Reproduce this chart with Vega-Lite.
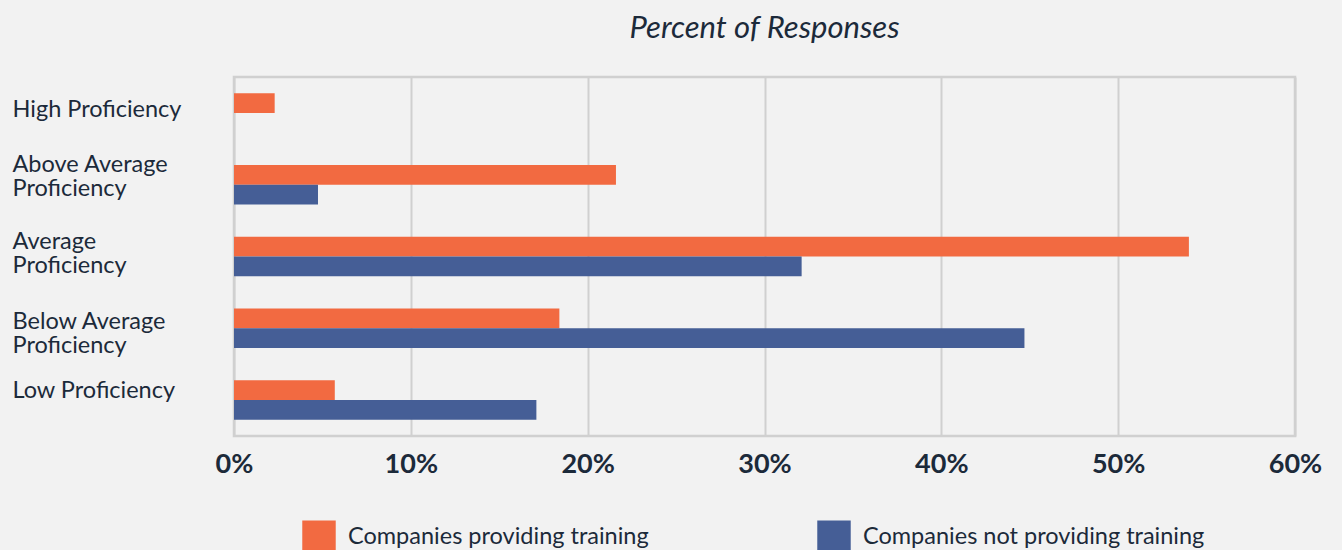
{
  "$schema": "https://vega.github.io/schema/vega-lite/v6.json",
  "autosize": {"type": "none"},
  "width": 1061,
  "height": 359,
  "padding": {"left": 234, "top": 77, "right": 47, "bottom": 114},
  "background": "#f2f2f2",
  "config": {
    "font": "Lato",
    "view": {"stroke": "#d0d0d0", "strokeWidth": 2.5, "fill": "#f2f2f2"}
  },
  "title": {
    "text": "Percent of Responses",
    "font": "Lato",
    "fontSize": 31,
    "fontStyle": "italic",
    "fontWeight": "normal",
    "color": "#1c2a3a",
    "anchor": "middle",
    "baseline": "alphabetic",
    "offset": 8
  },
  "data": {
    "values": [
      {"level": "High Proficiency", "series": "Companies providing training", "pct": 2.3},
      {"level": "High Proficiency", "series": "Companies not providing training", "pct": 0},
      {"level": "Above Average Proficiency", "series": "Companies providing training", "pct": 21.6},
      {"level": "Above Average Proficiency", "series": "Companies not providing training", "pct": 4.75},
      {"level": "Average Proficiency", "series": "Companies providing training", "pct": 54.0},
      {"level": "Average Proficiency", "series": "Companies not providing training", "pct": 32.1},
      {"level": "Below Average Proficiency", "series": "Companies providing training", "pct": 18.4},
      {"level": "Below Average Proficiency", "series": "Companies not providing training", "pct": 44.7},
      {"level": "Low Proficiency", "series": "Companies providing training", "pct": 5.7},
      {"level": "Low Proficiency", "series": "Companies not providing training", "pct": 17.1}
    ]
  },
  "mark": {"type": "bar"},
  "encoding": {
    "y": {
      "field": "level",
      "type": "nominal",
      "sort": ["High Proficiency", "Above Average Proficiency", "Average Proficiency", "Below Average Proficiency", "Low Proficiency"],
      "scale": {"paddingInner": 0.45, "paddingOuter": 0.225},
      "axis": {
        "title": null,
        "domain": false,
        "ticks": false,
        "tickSize": 0,
        "labelAlign": "left",
        "labelBaseline": "middle",
        "labelPadding": 222,
        "labelFont": "Lato",
        "labelFontSize": 23.5,
        "labelColor": "#1c2a3a",
        "labelLineHeight": 24,
        "labelLimit": 300,
        "labelExpr": "(datum.value == 'High Proficiency' || datum.value == 'Low Proficiency') ? datum.value : [replace(datum.value, ' Proficiency', ''), 'Proficiency']",
        "labelOffset": {
          "condition": [
            {"test": "datum.value == 'High Proficiency'", "value": -3},
            {"test": "datum.value == 'Above Average Proficiency'", "value": -20},
            {"test": "datum.value == 'Average Proficiency'", "value": -14.5},
            {"test": "datum.value == 'Below Average Proficiency'", "value": -6}
          ],
          "value": -9.5
        }
      }
    },
    "yOffset": {
      "field": "series",
      "type": "nominal",
      "sort": ["Companies providing training", "Companies not providing training"]
    },
    "x": {
      "field": "pct",
      "type": "quantitative",
      "scale": {"domain": [0, 60], "nice": false},
      "axis": {
        "title": null,
        "values": [0, 10, 20, 30, 40, 50, 60],
        "labelExpr": "datum.value + '%'",
        "domain": false,
        "ticks": false,
        "grid": true,
        "gridColor": "#d0d0d0",
        "gridWidth": 2,
        "labelFont": "Lato",
        "labelFontSize": 27,
        "labelFontWeight": "bold",
        "labelColor": "#1c2a3a",
        "labelPadding": 15,
        "labelFlush": false
      }
    },
    "color": {
      "field": "series",
      "type": "nominal",
      "scale": {
        "domain": ["Companies providing training", "Companies not providing training"],
        "range": ["#f26a41", "#455e96"]
      },
      "legend": {
        "title": null,
        "orient": "none",
        "direction": "horizontal",
        "legendX": 68,
        "legendY": 443,
        "columnPadding": 168,
        "symbolType": "square",
        "symbolSize": 1120,
        "symbolStrokeWidth": 0,
        "symbolOpacity": 1,
        "labelFont": "Lato",
        "labelFontSize": 23.5,
        "labelColor": "#1c2a3a",
        "labelOffset": 12,
        "labelLimit": 500
      }
    }
  }
}
